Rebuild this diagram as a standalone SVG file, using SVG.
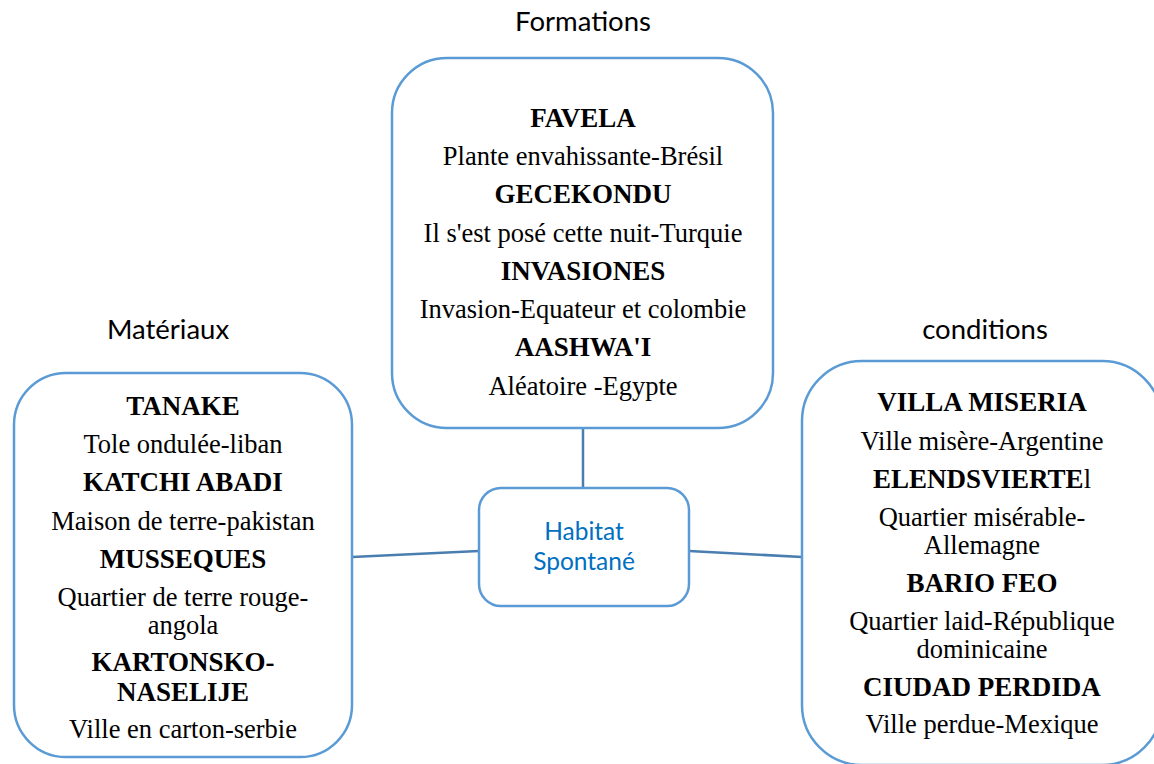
<svg xmlns="http://www.w3.org/2000/svg" width="1154" height="764" viewBox="0 0 1154 764">
  <style>
    .box { fill: #ffffff; stroke: #5B9BD5; stroke-width: 2.5; }
    .link { stroke: #4A7EB0; stroke-width: 2.5; fill: none; }
    .t { font-family: "Liberation Serif", "Times New Roman", serif; font-size: 26.5px; fill: #000000; text-anchor: middle; }
    .b { font-weight: bold; font-size: 27px; }
    .cap { font-family: Lato, "Open Sans", sans-serif; font-size: 27.5px; fill: #000000; text-anchor: middle; }
    .hub { font-family: Lato, "Open Sans", sans-serif; font-size: 24.5px; fill: #0070C0; text-anchor: middle; }
  </style>

  <!-- connectors -->
  <g id="connectors">
    <line class="link" x1="583" y1="428" x2="583" y2="488"/>
    <line class="link" x1="352" y1="557" x2="479" y2="551"/>
    <line class="link" x1="689" y1="551" x2="802" y2="557"/>
  </g>

  <!-- section captions -->
  <text class="cap" x="583" y="31">Formations</text>
  <text class="cap" x="168" y="339">Matériaux</text>
  <text class="cap" x="985" y="339">conditions</text>

  <!-- top: formations -->
  <g id="formations">
    <rect class="box" x="392" y="58" width="381" height="370" rx="55" ry="55"/>
    <text class="t b" x="583" y="127">FAVELA</text>
    <text class="t" x="583" y="165">Plante envahissante-Brésil</text>
    <text class="t b" x="583" y="203">GECEKONDU</text>
    <text class="t" x="583" y="242">Il s'est posé cette nuit-Turquie</text>
    <text class="t b" x="583" y="280">INVASIONES</text>
    <text class="t" x="583" y="318">Invasion-Equateur et colombie</text>
    <text class="t b" x="583" y="356">AASHWA'I</text>
    <text class="t" x="583" y="395">Aléatoire -Egypte</text>
  </g>

  <!-- left: materiaux -->
  <g id="materiaux">
    <rect class="box" x="14" y="373" width="338" height="384" rx="52" ry="52"/>
    <text class="t b" x="183" y="415">TANAKE</text>
    <text class="t" x="183" y="453">Tole ondulée-liban</text>
    <text class="t b" x="183" y="491">KATCHI ABADI</text>
    <text class="t" x="183" y="530">Maison de terre-pakistan</text>
    <text class="t b" x="183" y="568">MUSSEQUES</text>
    <text class="t" x="183" y="606">Quartier de terre rouge-</text>
    <text class="t" x="183" y="634">angola</text>
    <text class="t b" x="183" y="671">KARTONSKO-</text>
    <text class="t b" x="183" y="701">NASELIJE</text>
    <text class="t" x="183" y="738">Ville en carton-serbie</text>
  </g>

  <!-- right: conditions -->
  <g id="conditions">
    <rect class="box" x="802" y="361" width="360" height="404" rx="60" ry="60"/>
    <text class="t b" x="982" y="411">VILLA MISERIA</text>
    <text class="t" x="982" y="450">Ville misère-Argentine</text>
    <text class="t" x="982" y="488"><tspan class="b">ELENDSVIERTE</tspan>l</text>
    <text class="t" x="982" y="526">Quartier misérable-</text>
    <text class="t" x="982" y="554">Allemagne</text>
    <text class="t b" x="982" y="592">BARIO FEO</text>
    <text class="t" x="982" y="630">Quartier laid-République</text>
    <text class="t" x="982" y="658">dominicaine</text>
    <text class="t b" x="982" y="696">CIUDAD PERDIDA</text>
    <text class="t" x="982" y="733">Ville perdue-Mexique</text>
  </g>

  <!-- centre: habitat spontane -->
  <g id="habitat">
    <rect class="box" x="479" y="488" width="210" height="118" rx="22" ry="22"/>
    <text class="hub" x="584" y="540">Habitat</text>
    <text class="hub" x="584" y="570">Spontané</text>
  </g>
</svg>
